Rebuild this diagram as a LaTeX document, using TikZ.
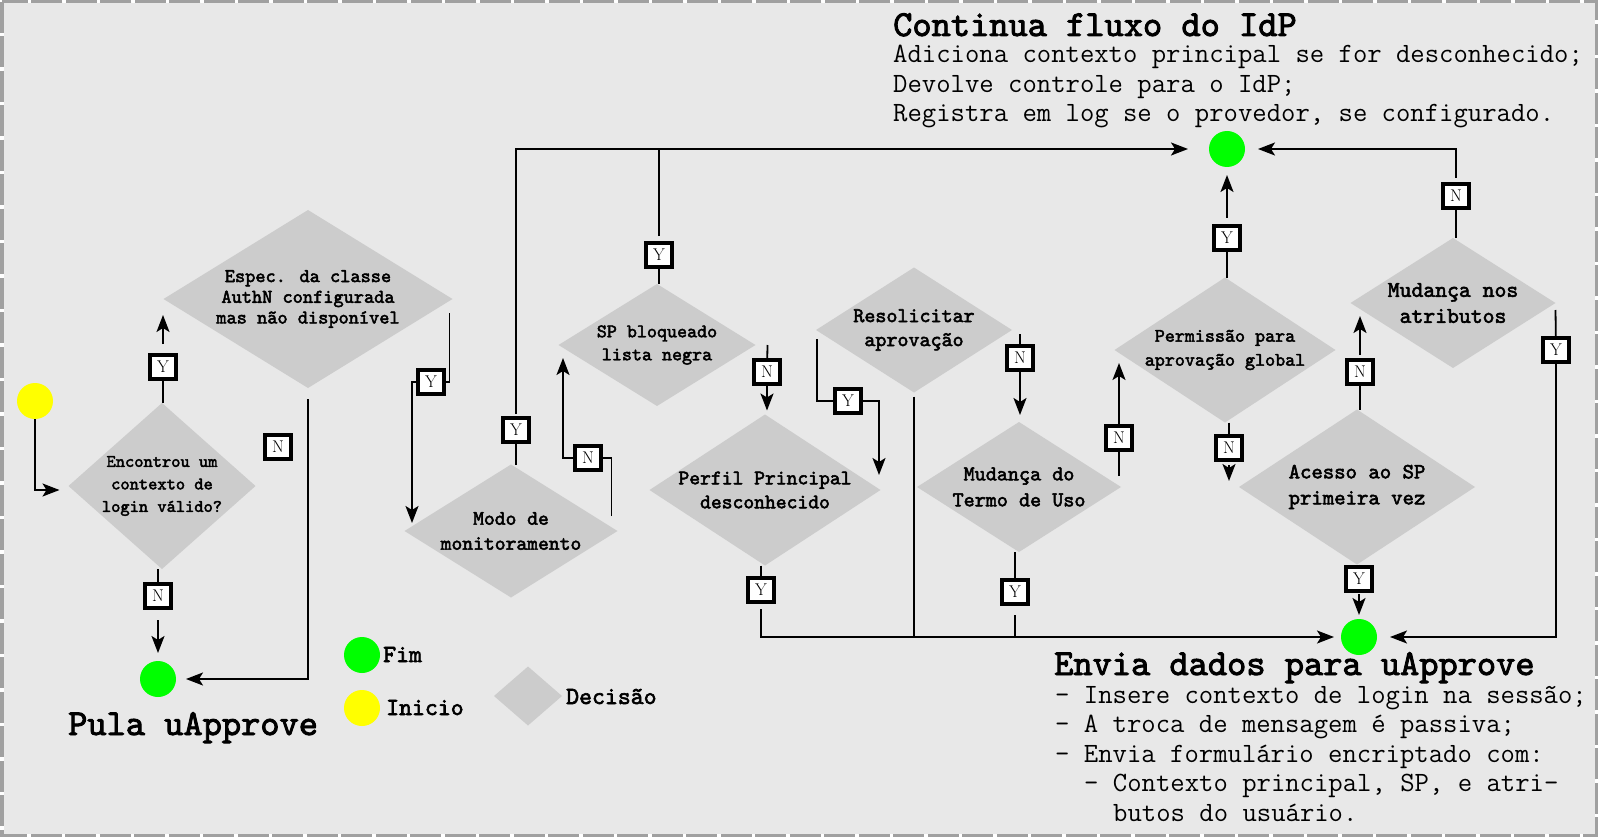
\documentclass[tikz,border=0pt]{standalone}
\usepackage{fontspec}
\newfontfamily\negrito[FakeBold=2.5]{lmmono10-regular.otf}
\usetikzlibrary{arrows.meta,shapes.geometric}
\definecolor{fundo}{RGB}{232,232,232}
\definecolor{losango}{RGB}{204,204,204}
\definecolor{moldura}{RGB}{160,160,160}
\definecolor{verde}{RGB}{0,255,0}
\definecolor{amarelo}{RGB}{255,255,0}
\newcommand{\fs}[2]{\fontsize{#1}{#2}\selectfont}
\begin{document}
\begin{tikzpicture}[x=1pt,y=-1pt,
    line/.style={line width=1.8pt},
    seta/.style={line width=1.8pt,-{Stealth[length=17pt,width=13pt,inset=4pt]}},
    decisao/.style={diamond,fill=losango,inner sep=0pt,outer sep=0pt},
    dtexto/.style={align=center,inner sep=0pt},
    sn/.style={draw,line width=4pt,fill=white,minimum width=26pt,minimum height=24pt,inner sep=0pt,font=\fs{17}{17}},
    fim/.style={circle,fill=verde,minimum size=36pt,inner sep=0pt,outer sep=0pt},
    titulo/.style={anchor=base west,inner sep=0pt,font=\negrito\fs{36.6}{40}},
    texto/.style={anchor=base west,inner sep=0pt,font=\ttfamily\fs{27.9}{29}},
    legenda/.style={anchor=base west,inner sep=0pt,font=\negrito\fs{24.6}{26}}]
    \useasboundingbox (0,0) rectangle (1598,837);
    \fill[white] (0,0) rectangle (1598,837);
    \fill[fundo] (3.5,3.5) rectangle (1594.5,833.5);
    \draw[moldura,line width=3.5pt,dash pattern=on 31pt off 3.5pt] (1.75,1.75) rectangle (1596.25,835.25);

    \node[fim,fill=amarelo] (inicio) at (35,401) {};
    \node[fim] (pula) at (158,679) {};
    \node[fim] (idp) at (1227,149) {};
    \node[fim] (envia) at (1359,637) {};

    \node[decisao,minimum width=187pt,minimum height=166pt] (d1) at (162,486) {};
    \node[dtexto,font=\negrito\fs{17.6}{22.5}] (t1) at (d1) {Encontrou um\\contexto de\\login válido?};
    \node[decisao,minimum width=289pt,minimum height=178pt] (d2) at (308,299) {};
    \node[dtexto,font=\negrito\fs{19.4}{20.7}] (t2) at (d2) {Espec. da classe\\AuthN configurada\\mas não disponível};
    \node[decisao,minimum width=213pt,minimum height=133pt] (d3) at (511,531) {};
    \node[dtexto,font=\negrito\fs{20.6}{25}] (t3) at (d3) {Modo de\\monitoramento};
    \node[decisao,minimum width=197pt,minimum height=122pt] (d4) at (657,345) {};
    \node[dtexto,font=\negrito\fs{19.1}{23}] (t4) at (d4) {SP bloqueado\\lista negra};
    \node[decisao,minimum width=231pt,minimum height=151pt] (d5) at (765,490) {};
    \node[dtexto,font=\negrito\fs{20.6}{24}] (t5) at (d5) {Perfil Principal\\desconhecido};
    \node[decisao,minimum width=196pt,minimum height=125pt] (d6) at (914,330) {};
    \node[dtexto,font=\negrito\fs{21}{24}] (t6) at (d6) {Resolicitar\\aprovação};
    \node[decisao,minimum width=204pt,minimum height=130pt] (d7) at (1019,487) {};
    \node[dtexto,font=\negrito\fs{21.1}{26}] (t7) at (d7) {Mudança do\\Termo de Uso};
    \node[decisao,minimum width=221pt,minimum height=145pt] (d8) at (1225,350) {};
    \node[dtexto,font=\negrito\fs{19.1}{24}] (t8) at (d8) {Permissão para\\aprovação global};
    \node[decisao,minimum width=236pt,minimum height=155pt] (d9) at (1357,487) {};
    \node[dtexto,font=\negrito\fs{21.7}{26}] (t9) at (d9) {Acesso ao SP\\primeira vez};
    \node[decisao,minimum width=205pt,minimum height=130pt] (d10) at (1453,303) {};
    \node[dtexto,font=\negrito\fs{22.6}{26}] (t10) at (d10) {Mudança nos\\atributos};

    \node[sn] (y1) at (163,367) {Y};
    \node[sn] (n1) at (158,596) {N};
    \node[sn] (nsolto) at (278,447) {N};
    \node[sn] (y2) at (431,382) {Y};
    \node[sn] (y3) at (516,430) {Y};
    \node[sn] (n3) at (588,458) {N};
    \node[sn] (y4) at (659,255) {Y};
    \node[sn] (n4) at (767,372) {N};
    \node[sn] (y5) at (761,590) {Y};
    \node[sn] (y6) at (848,401) {Y};
    \node[sn] (n6) at (1020,358) {N};
    \node[sn] (y7) at (1015,592) {Y};
    \node[sn] (n7) at (1119,438) {N};
    \node[sn] (y8) at (1227,238) {Y};
    \node[sn] (n8) at (1229,448) {N};
    \node[sn] (y9) at (1359,579) {Y};
    \node[sn] (n9) at (1360,372) {N};
    \node[sn] (n10) at (1456,196) {N};
    \node[sn] (y10) at (1556,350) {Y};

    \coordinate (a1) at (163,315);
    \coordinate (a4) at (412,523);
    \coordinate (a7) at (563,358);
    \coordinate (a10) at (879,475);
    \coordinate (a14) at (1119,363);
    \coordinate (a16) at (1229,481);
    \coordinate (a18) at (1360,316);

    \draw[seta] (inicio) |- ([xshift=-9pt,yshift=-4pt]d1.west);
    \draw[seta,shorten <=9pt] (y1 |- d1.north) -- (y1) -- (a1);
    \draw[seta,shorten <=10pt,shorten >=8pt] (n1 |- d1.south) -- (n1) -- (pula);
    \draw[seta,shorten <=11pt,shorten >=10pt] (d2.south) |- (pula);
    \draw[seta] ([xshift=-3pt,yshift=-14pt]d2.east) |- (y2) -| (a4);
    \draw[seta,shorten <=2pt,shorten >=21pt] (y3 |- d3.north) -- (y3) |- (idp);
    \draw[line,shorten <=5pt] (y4 |- d4.north) -- (y4) -- (y4 |- idp);
    \draw[seta] ([xshift=-6pt,yshift=15pt]d3.east) |- (n3) -| (a7);
    \draw[seta,shorten >=4pt] ([xshift=12pt]d4.east) -- (n4) -- (n4 |- d5.north);
    \draw[seta,shorten <=5pt,shorten >=7pt] (y5 |- d5.south) -- (y5) |- (envia);
    \draw[seta] ([xshift=1pt,yshift=-9pt]d6.west) |- (y6) -| (a10);
    \draw[line,shorten <=4pt] (d6.south) -- (d6.south |- envia);
    \draw[seta,shorten >=7pt] ([xshift=8pt,yshift=-4pt]d6.east) -- (n6) -- (n6 |- d7.north);
    \draw[line,shorten <=9pt] (y7 |- d7.south) -- (y7) -- (y7 |- envia);
    \draw[seta] ([xshift=-2pt,yshift=11pt]d7.east) -- (n7) -- (a14);
    \draw[seta,shorten <=6pt,shorten >=8pt] (y8 |- d8.north) -- (y8) -- (idp);
    \draw[seta,shorten <=3pt] (n8 |- d8.south) -- (n8) -- (a16);
    \draw[seta,shorten <=1pt,shorten >=4pt] (y9 |- d9.south) -- (y9) -- (envia);
    \draw[seta,shorten <=3pt] (n9 |- d9.north) -- (n9) -- (a18);
    \draw[seta,shorten <=4pt,shorten >=13pt] (n10 |- d10.north) -- (n10) |- (idp);
    \draw[seta,shorten >=13pt] ([yshift=-7pt]d10.east) -- (y10) |- (envia);

    \node[titulo] (tpula) at (68,735) {Pula uApprove};
    \node[titulo] (tidp) at (893,36) {Continua fluxo do IdP};
    \node[texto] (idp1) at (893,63) {Adiciona contexto principal se for desconhecido;};
    \node[texto] (idp2) at (893,93) {Devolve controle para o IdP;};
    \node[texto] (idp3) at (893,122) {Registra em log se o provedor, se configurado.};
    \node[titulo] (tenvia) at (1054,675) {Envia dados para uApprove};
    \node[texto] (envia1) at (1055,703) {- Insere contexto de login na sessão;};
    \node[texto] (envia2) at (1055,732) {- A troca de mensagem é passiva;};
    \node[texto] (envia3) at (1055,762) {- Envia formulário encriptado com:};
    \node[texto] (envia4) at (1084,791) {- Contexto principal, SP, e atri-};
    \node[texto] (envia5) at (1113,821) {butos do usuário.};

    \node[fim] (lfim) at (362,655) {};
    \node[legenda] (tfim) at (383,662) {Fim};
    \node[fim,fill=amarelo] (linicio) at (362,708) {};
    \node[legenda] (tinicio) at (386,715) {Inicio};
    \node[decisao,minimum width=68pt,minimum height=59pt] (ldecisao) at (528,696) {};
    \node[legenda] (tdecisao) at (566,704) {Decisão};
\end{tikzpicture}
\end{document}
